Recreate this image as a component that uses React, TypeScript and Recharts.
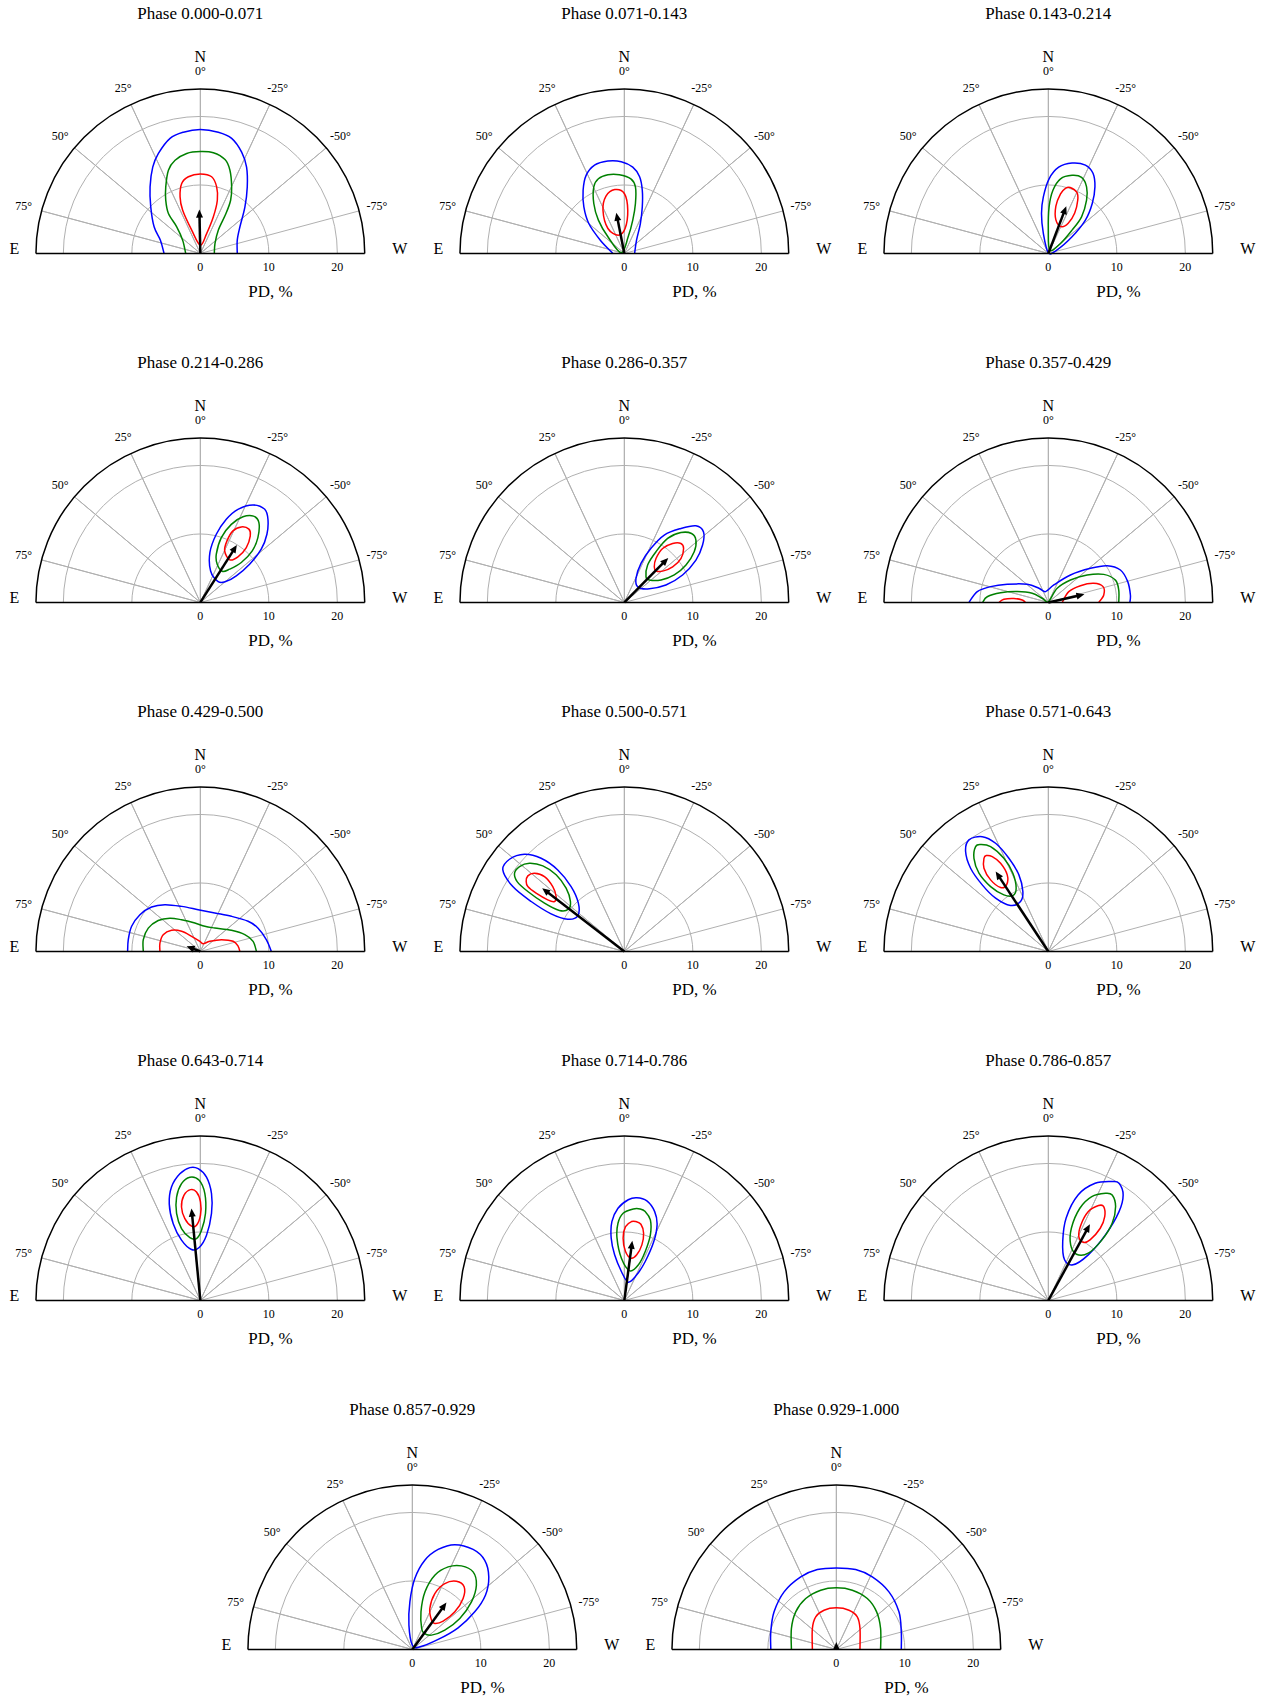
import React from 'react';
import { ScatterChart, Scatter, XAxis, YAxis } from 'recharts';

type Pt = [number, number];

const phaseLabels = [
  '0.000-0.071', '0.071-0.143', '0.143-0.214', '0.214-0.286', '0.286-0.357',
  '0.357-0.429', '0.429-0.500', '0.500-0.571', '0.571-0.643', '0.643-0.714',
  '0.714-0.786', '0.786-0.857', '0.857-0.929', '0.929-1.000',
];

// best-fit polarization: degree (%) and angle (deg, positive toward E)
const pdValues = [6.4, 6.05, 7.38, 9.95, 9.13, 5.4, 2.14, 15.14, 13.97, 13.47, 8.78, 12.68, 8.47, 1.1];
const paValues = [1.3, 11.2, -20.8, -32.4, -44.6, -77.3, 69.4, 52.4, 33.4, 5.5, -7.6, -28.6, -36, 0];

const angleTicks = [75, 50, 25, 0, -25, -50, -75];
const pdTicks = [0, 10, 20];
const gridRadii = [10, 20];
const outerRadius = 24;

// confidence contours per phase bin, points [x, y] in PD % (x toward W, y toward N)
const redContours: Pt[][][] = [
  [[[0, 1.2], [-1.26, 3.4], [-2.58, 6.3], [-2.96, 8.26], [-2.72, 10.2], [-1.75, 11.2], [0, 11.6], [1.65, 11.2], [2.38, 9.72], [2.48, 7.77], [1.9, 5.35], [0.92, 2.9]]],
  [[[-1.39, 9.33], [0, 8.75], [0.5, 6.3], [0.11, 3.64], [-0.89, 2.67], [-2.4, 3.64], [-3.12, 6.3], [-2.68, 8.36]]],
  [[[3.18, 9.62], [4.17, 8.9], [4.29, 7.77], [3.85, 5.9], [2.9, 4.4], [1.9, 3.9], [1.1, 4.9], [1.1, 6.9], [1.78, 8.7], [2.5, 9.5]]],
  [[[4.28, 6.22], [3.55, 7.53], [3.89, 8.99], [4.76, 10.45], [5.98, 11.03], [7.09, 10.7], [7.29, 9.72], [6.71, 8.02], [5.49, 6.66]]],
  [[[4.62, 4.62], [4.37, 5.2], [4.62, 6.41], [5.59, 7.87], [7.05, 8.6], [8.26, 8.6], [8.65, 7.87], [8.26, 6.41], [7.05, 5.2], [5.59, 4.57]]],
  [
    [[-7.21, 0], [-6.49, 0.46], [-5.03, 0.58], [-3.81, 0.36], [-3.33, 0]],
    [[2.02, 0], [2.99, 1.58], [4.69, 2.45], [6.63, 2.8], [7.99, 2.31], [8.09, 1.09], [7.36, 0]],
  ],
  [[[-5.9, 0], [-5.9, 1.23], [-5.42, 2.45], [-4.2, 3.08], [-2.74, 2.94], [-1.28, 2.21], [-0.07, 1.48], [0.41, 1.14], [1.39, 1.48], [3.09, 1.72], [4.79, 1.48], [5.52, 0.75], [5.76, 0]]],
  [[[-14.33, 10.2], [-14.09, 11.03], [-13.12, 11.42], [-11.66, 10.93], [-10.45, 9.47], [-9.96, 8.02], [-10.2, 7.29], [-11.18, 7.53], [-12.88, 8.5], [-14.09, 9.47]]],
  [[[-9.06, 14.0], [-9.4, 13.6], [-9.4, 12.15], [-8.43, 10.45], [-6.97, 9.33], [-6.1, 9.72], [-6.0, 11.18], [-6.97, 12.88], [-8.19, 13.85]]],
  [[[-1.43, 16.18], [-2.4, 15.35], [-2.75, 13.65], [-2.26, 11.95], [-1.29, 10.84], [-0.56, 10.98], [0.02, 12.44], [0.02, 14.38], [-0.56, 15.84]]],
  [[[1.06, 11.52], [0.17, 10.79], [-0.18, 9.09], [0.17, 7.14], [0.97, 6.17], [1.81, 6.66], [2.56, 8.11], [2.81, 9.82], [2.42, 11.13], [1.67, 11.52]]],
  [[[7.33, 13.85], [5.84, 12.97], [4.75, 11.03], [4.45, 9.33], [5.1, 8.5], [6.09, 8.84], [7.58, 10.54], [8.23, 12.24], [8.08, 13.7]]],
  [[[3.28, 3.79], [2.8, 4.28], [2.55, 5.98], [3.28, 8.16], [4.74, 9.62], [6.44, 9.96], [7.56, 9.14], [7.41, 7.43], [6.2, 5.49], [4.5, 4.13]]],
  [[[-3.5, 0], [-3.5, 3.06], [-3.01, 4.76], [-1.8, 5.73], [0, 6.07], [1.85, 5.73], [3.06, 4.76], [3.45, 3.06], [3.45, 0]]],
];

const greenContours: Pt[][][] = [
  [[[-2.14, 0], [-2.58, 1.94], [-3.45, 3.89], [-4.66, 5.83], [-5.05, 7.77], [-5.05, 9.72], [-4.66, 12.15], [-3.69, 13.6], [-1.99, 14.6], [0, 14.87], [1.9, 14.7], [3.6, 13.7], [4.32, 12.15], [4.57, 9.72], [4.42, 7.77], [3.74, 5.83], [2.62, 3.4], [2.14, 1.46], [2.04, 0]]],
  [[[-0.45, 0.1], [-2.4, 2.43], [-3.79, 4.86], [-4.46, 7.29], [-4.46, 9.72], [-3.79, 10.9], [-2.4, 11.5], [-0.73, 11.5], [0.95, 10.9], [1.62, 9.72], [1.62, 7.29], [1.23, 4.86], [0.56, 2.43]]],
  [[[0.22, 0.49], [0, 3.4], [0.11, 6.8], [0.67, 9.23], [1.78, 10.9], [3.46, 11.4], [4.85, 11.1], [5.58, 9.72], [5.58, 7.77], [4.85, 5.35], [3.46, 3.4], [1.78, 1.46]]],
  [[[3.2, 4.55], [2.45, 5.6], [2.33, 7.05], [3.06, 9.47], [4.52, 11.4], [6.22, 12.5], [7.77, 12.6], [8.55, 11.66], [8.4, 9.47], [7.58, 7.53], [5.98, 5.83], [4.28, 4.86]]],
  [[[3.64, 3.28], [3.16, 3.76], [3.4, 5.47], [4.62, 7.41], [6.32, 9.35], [8.26, 10.2], [9.81, 10.06], [10.45, 9.11], [10.2, 7.41], [9.0, 5.47], [7.29, 4.01], [5.35, 3.28]]],
  [[[-9.6, 0], [-8.92, 0.83], [-6.97, 1.41], [-4.54, 1.58], [-2.36, 1.34], [-0.9, 0.61], [0, 0.12], [1.29, 2.07], [3.23, 3.28], [5.66, 4.01], [8.09, 4.1], [9.79, 3.26], [10.28, 1.8], [10.28, 0]]],
  [[[-8.33, 0], [-8.33, 1.72], [-7.6, 3.4], [-6.15, 4.52], [-4.45, 4.86], [-2.74, 4.62], [-0.8, 4.14], [0.66, 3.67], [2.11, 3.42], [4.54, 3.08], [6.49, 2.45], [7.7, 1.48], [8.19, 0]]],
  [[[-16.03, 11.42], [-15.3, 12.4], [-13.85, 12.88], [-11.9, 12.5], [-9.96, 11.2], [-8.5, 9.23], [-7.87, 7.29], [-8.16, 6.17], [-9.48, 5.98], [-11.66, 7.05], [-14.09, 8.75], [-15.65, 10.2]]],
  [[[-9.89, 15.6], [-10.62, 15.3], [-10.86, 13.6], [-10.13, 11.42], [-8.43, 9.47], [-6.49, 8.26], [-5.18, 8.16], [-4.7, 9.23], [-5.18, 11.42], [-6.49, 13.6], [-8.43, 15.3]]],
  [[[-1.53, 18.0], [-2.75, 17.06], [-3.47, 15.1], [-3.47, 12.7], [-2.75, 10.5], [-1.53, 9.18], [-0.56, 9.04], [0.17, 10.25], [0.75, 12.7], [0.66, 15.6], [-0.17, 17.54]]],
  [[[1.31, 13.36], [-0.18, 12.73], [-0.93, 11.27], [-1.07, 9.09], [-0.43, 6.17], [0.82, 4.32], [2.06, 5.2], [3.05, 7.14], [3.8, 9.57], [3.8, 11.76], [3.05, 12.97], [2.31, 13.36]]],
  [[[8.33, 15.65], [6.34, 15.16], [4.6, 13.46], [3.36, 10.54], [3.26, 8.11], [4.1, 6.75], [5.83, 6.9], [7.83, 8.84], [9.32, 11.27], [9.82, 13.7], [9.32, 15.4]]],
  [[[1.73, 2.33], [1.36, 3.06], [1.26, 5.49], [1.85, 8.41], [3.28, 10.84], [5.23, 12.05], [7.17, 12.2], [8.87, 11.32], [9.35, 9.38], [8.63, 6.95], [6.93, 4.52], [4.74, 2.82], [2.8, 2.09]]],
  [[[-6.56, 0], [-6.56, 3.06], [-5.93, 5.49], [-4.47, 7.43], [-2.28, 8.65], [0, 8.99], [2.33, 8.65], [4.52, 7.43], [5.88, 5.49], [6.46, 3.06], [6.46, 0]]],
];

const blueContours: Pt[][][] = [
  [[[-5.3, 0], [-5.83, 1.94], [-6.75, 3.89], [-7.24, 6.8], [-7.34, 9.72], [-6.95, 12.6], [-6.12, 14.6], [-4.42, 16.8], [-2.48, 17.7], [0, 18.1], [2.62, 17.7], [4.57, 16.8], [6.03, 14.8], [6.75, 12.6], [6.85, 9.7], [6.51, 6.8], [5.78, 3.9], [5.39, 1.94], [5.39, 0]]],
  [[[-1.67, 0], [-3.51, 1.94], [-5.19, 4.37], [-5.91, 6.8], [-6.02, 9.23], [-5.58, 11.4], [-4.35, 12.9], [-2.4, 13.5], [-0.45, 13.4], [1.23, 12.6], [2.23, 11.2], [2.62, 9.23], [2.62, 6.8], [2.34, 4.37], [1.78, 1.94], [1.5, 0]]],
  [[[0, 0.1], [-0.73, 2.92], [-1.0, 5.83], [-0.73, 8.26], [0.11, 10.9], [1.51, 12.6], [3.46, 13.2], [5.41, 12.9], [6.52, 11.7], [6.8, 9.72], [6.41, 7.29], [5.41, 4.86], [3.46, 2.43], [1.23, 0.49]]],
  [[[2.6, 3.05], [1.5, 4.6], [1.4, 7.3], [2.33, 9.96], [3.79, 12.15], [5.49, 13.6], [7.68, 14.24], [9.4, 13.6], [9.87, 12.15], [9.72, 9.96], [8.89, 7.77], [7.19, 5.59], [5.25, 3.89], [3.7, 3.05]]],
  [[[3.4, 1.97], [1.94, 2.31], [1.7, 3.52], [2.43, 5.71], [3.89, 7.9], [5.83, 9.84], [8.26, 10.8], [10.45, 11.2], [11.56, 10.3], [11.42, 8.38], [10.45, 6.19], [8.5, 4.01], [6.07, 2.55]]],
  [[[-11.59, 0], [-10.37, 1.58], [-8.43, 2.31], [-6.0, 2.65], [-3.08, 2.65], [-1.38, 2.07], [-0.41, 1.58], [0.8, 2.55], [3.23, 4.01], [6.15, 4.98], [8.58, 5.37], [10.52, 4.74], [11.59, 3.04], [11.98, 1.09], [11.9, 0]]],
  [[[-10.62, 0], [-10.52, 1.72], [-10.03, 3.67], [-8.82, 5.37], [-7.12, 6.49], [-5.17, 6.83], [-2.74, 6.58], [-0.32, 6.1], [2.11, 5.61], [4.54, 5.13], [6.97, 4.4], [8.43, 3.4], [9.65, 1.7], [10.37, 0]]],
  [[[-17.74, 11.9], [-16.76, 13.46], [-14.58, 14.19], [-12.15, 13.6], [-9.72, 11.9], [-7.77, 9.47], [-6.71, 7.05], [-6.8, 5.2], [-8.26, 4.71], [-10.69, 5.49], [-13.6, 7.29], [-16.28, 9.47]]],
  [[[-9.65, 16.76], [-11.59, 16.28], [-12.08, 14.58], [-11.35, 12.15], [-9.65, 9.72], [-7.7, 7.77], [-5.52, 6.71], [-4.06, 7.29], [-3.72, 8.75], [-4.3, 11.18], [-5.76, 13.6], [-7.7, 15.79]]],
  [[[-1.53, 19.39], [-2.99, 18.5], [-4.2, 16.6], [-4.54, 14.1], [-3.96, 11.2], [-2.75, 8.8], [-1.29, 7.43], [-0.17, 7.73], [0.9, 9.52], [1.63, 12.7], [1.63, 15.6], [0.9, 18.0], [-0.32, 19.24]]],
  [[[1.81, 15.0], [0.57, 14.7], [-0.93, 13.46], [-1.82, 11.5], [-1.92, 9.09], [-1.42, 6.66], [-0.43, 4.23], [0.57, 2.67], [1.81, 3.74], [3.05, 5.69], [4.3, 8.6], [4.78, 11.03], [4.43, 12.97], [3.29, 14.53]]],
  [[[9.31, 17.35], [6.83, 17.1], [4.34, 15.4], [2.6, 12.05], [2.1, 8.65], [2.35, 5.98], [3.59, 5.2], [5.83, 6.66], [8.33, 9.57], [10.32, 12.97], [10.92, 15.4], [10.32, 17.1]]],
  [[[0, 0.63], [-0.5, 3.55], [-0.36, 6.95], [0.36, 10.35], [1.82, 13.02], [3.77, 14.6], [6.2, 15.3], [8.87, 14.6], [10.57, 13.02], [11.16, 10.59], [10.67, 7.92], [9.11, 5.49], [6.68, 3.16], [3.77, 1.46], [1.12, 0.39]]],
  [[[-9.57, 0], [-9.57, 2.58], [-9.09, 5.49], [-7.63, 8.41], [-5.2, 10.59], [-2.77, 11.66], [0, 11.9], [2.82, 11.66], [5.25, 10.59], [7.68, 8.41], [9.14, 5.49], [9.48, 2.58], [9.48, 0]]],
];

// layout
const K = 6.85; // px per PD unit, same on both axes
const X_DOM: [number, number] = [-31, 31];
const Y_DOM: [number, number] = [-8, 37];
const CW = (X_DOM[1] - X_DOM[0]) * K;
const CH = (Y_DOM[1] - Y_DOM[0]) * K;
const COL_X0 = 200.5;
const COL_STEP = 424.15;
const ROW_Y0 = 253.3;
const ROW_STEP = 349;
const FONT = '"Liberation Serif", "Times New Roman", "DejaVu Serif", serif';
const GRID = '#b0b0b0';
const HEAD_L = 8;
const HEAD_W = 7;

type XY = { x: number; y: number };

const polar = (r: number, deg: number): XY => ({
  x: -r * Math.sin((deg * Math.PI) / 180),
  y: r * Math.cos((deg * Math.PI) / 180),
});

const toXY = (pts: Pt[]): XY[] => pts.map(([x, y]) => ({ x, y }));

// Catmull-Rom through the read points, closed or open
function smoothPath(pts: XY[], closed: boolean) {
  const n = pts.length;
  if (n < 2) return '';
  const get = (i: number) => (closed ? pts[(i + n) % n] : pts[Math.max(0, Math.min(n - 1, i))]);
  let d = `M${pts[0].x},${pts[0].y}`;
  const segs = closed ? n : n - 1;
  for (let i = 0; i < segs; i++) {
    const p0 = get(i - 1);
    const p1 = get(i);
    const p2 = get(i + 1);
    const p3 = get(i + 2);
    d += `C${p1.x + (p2.x - p0.x) / 6},${p1.y + (p2.y - p0.y) / 6} ${p2.x - (p3.x - p1.x) / 6},${p2.y - (p3.y - p1.y) / 6} ${p2.x},${p2.y}`;
  }
  return closed ? d + 'Z' : d;
}

const noShape = () => null;

const curveLine = (color: string, closed: boolean) => (p: any) => (
  <path d={smoothPath(p.points, closed)} fill="none" stroke={color} strokeWidth={1.5} />
);

const arcLine = (color: string, width: number) => (p: any) => {
  const [a, b] = p.points;
  const R = (b.x - a.x) / 2;
  return <path d={`M${a.x},${a.y}A${R},${R} 0 0 1 ${b.x},${b.y}`} fill="none" stroke={color} strokeWidth={width} />;
};

const straightLine = (color: string, width: number) => (p: any) => (
  <path
    d={'M' + p.points.map((q: XY) => `${q.x},${q.y}`).join('L')}
    fill="none"
    stroke={color}
    strokeWidth={width}
  />
);

const textShape = (size: number) => (props: any) => (
  <text
    x={props.cx}
    y={props.cy}
    textAnchor="middle"
    dominantBaseline="central"
    fontSize={size}
    fontFamily={FONT}
    fill="#000"
  >
    {props.payload.text}
  </text>
);

const headShape = (props: any) => {
  const { cx, cy, payload } = props;
  const deg = (Math.atan2(-payload.y, payload.x) * 180) / Math.PI;
  return (
    <polygon
      points={`0,0 ${-HEAD_L},${HEAD_W / 2} ${-HEAD_L},${-HEAD_W / 2}`}
      transform={`translate(${cx},${cy}) rotate(${deg})`}
      fill="#000"
    />
  );
};

const isOpen = (c: Pt[]) => c[0][1] === 0 && c[c.length - 1][1] === 0;

function Panel({ index }: { index: number }) {
  const row = Math.floor(index / 3);
  const col = index % 3;
  const cx = COL_X0 + COL_STEP * (row === 4 ? col + 0.5 : col);
  const base = ROW_Y0 + ROW_STEP * row;
  const left = cx + X_DOM[0] * K;
  const top = base - Y_DOM[1] * K;

  const spokes: XY[] = [];
  angleTicks.forEach((a) => {
    spokes.push({ x: 0, y: 0 }, polar(outerRadius, a));
  });

  const pd = pdValues[index];
  const pa = paValues[index];
  const tip = polar(pd, pa);
  const shaftEnd = polar(Math.max(0, pd - (0.8 * HEAD_L) / K), pa);

  const bigText = [
    { x: 0, y: 35.0, text: `Phase ${phaseLabels[index]}` },
    { x: 10.25, y: -5.54, text: 'PD, %' },
  ];
  const midText = [
    { x: 0, y: 28.7, text: 'N' },
    { x: -27.16, y: 0.7, text: 'E' },
    { x: 29.1, y: 0.7, text: 'W' },
  ];
  const smallText = [
    ...angleTicks.map((a) => ({ ...polar(26.7, a), text: `${a}°` })),
    ...pdTicks.map((t) => ({ x: t, y: -1.94, text: `${t}` })),
  ];

  const layers: [string, Pt[][][]][] = [
    ['#0000ff', blueContours],
    ['#008000', greenContours],
    ['#ff0000', redContours],
  ];

  return (
    <div style={{ position: 'absolute', left, top }}>
      <ScatterChart width={CW} height={CH} margin={{ top: 0, right: 0, bottom: 0, left: 0 }}>
        <XAxis type="number" dataKey="x" domain={X_DOM} hide allowDataOverflow />
        <YAxis type="number" dataKey="y" domain={Y_DOM} hide allowDataOverflow />
        {gridRadii.map((r) => (
          <Scatter
            key={`g${r}`}
            data={[{ x: -r, y: 0 }, { x: r, y: 0 }]}
            line={arcLine(GRID, 1)}
            shape={noShape}
            isAnimationActive={false}
          />
        ))}
        <Scatter data={spokes} line={straightLine(GRID, 1)} shape={noShape} isAnimationActive={false} />
        {layers.map(([color, set]) =>
          set[index].map((c, j) => (
            <Scatter
              key={`${color}${j}`}
              data={toXY(c)}
              line={curveLine(color, !isOpen(c))}
              shape={noShape}
              isAnimationActive={false}
            />
          )),
        )}
        {pd - (0.8 * HEAD_L) / K > 0 && (
          <Scatter
            data={[{ x: 0, y: 0 }, shaftEnd]}
            line={straightLine('#000', 2.5)}
            shape={noShape}
            isAnimationActive={false}
          />
        )}
        <Scatter data={[tip]} shape={headShape} isAnimationActive={false} />
        <Scatter
          data={[{ x: -outerRadius, y: 0 }, { x: outerRadius, y: 0 }]}
          line={arcLine('#000', 1.5)}
          shape={noShape}
          isAnimationActive={false}
        />
        <Scatter
          data={[{ x: -outerRadius, y: 0 }, { x: outerRadius, y: 0 }]}
          line={straightLine('#000', 1.5)}
          shape={noShape}
          isAnimationActive={false}
        />
        <Scatter data={bigText} shape={textShape(17)} isAnimationActive={false} />
        <Scatter data={midText} shape={textShape(16)} isAnimationActive={false} />
        <Scatter data={smallText} shape={textShape(12)} isAnimationActive={false} />
      </ScatterChart>
    </div>
  );
}

export default function App() {
  return (
    <div
      style={{
        position: 'absolute',
        left: 0,
        top: 0,
        width: 1268,
        height: 1699,
        overflow: 'hidden',
        background: '#fff',
      }}
    >
      {phaseLabels.map((_, i) => (
        <Panel key={i} index={i} />
      ))}
    </div>
  );
}
